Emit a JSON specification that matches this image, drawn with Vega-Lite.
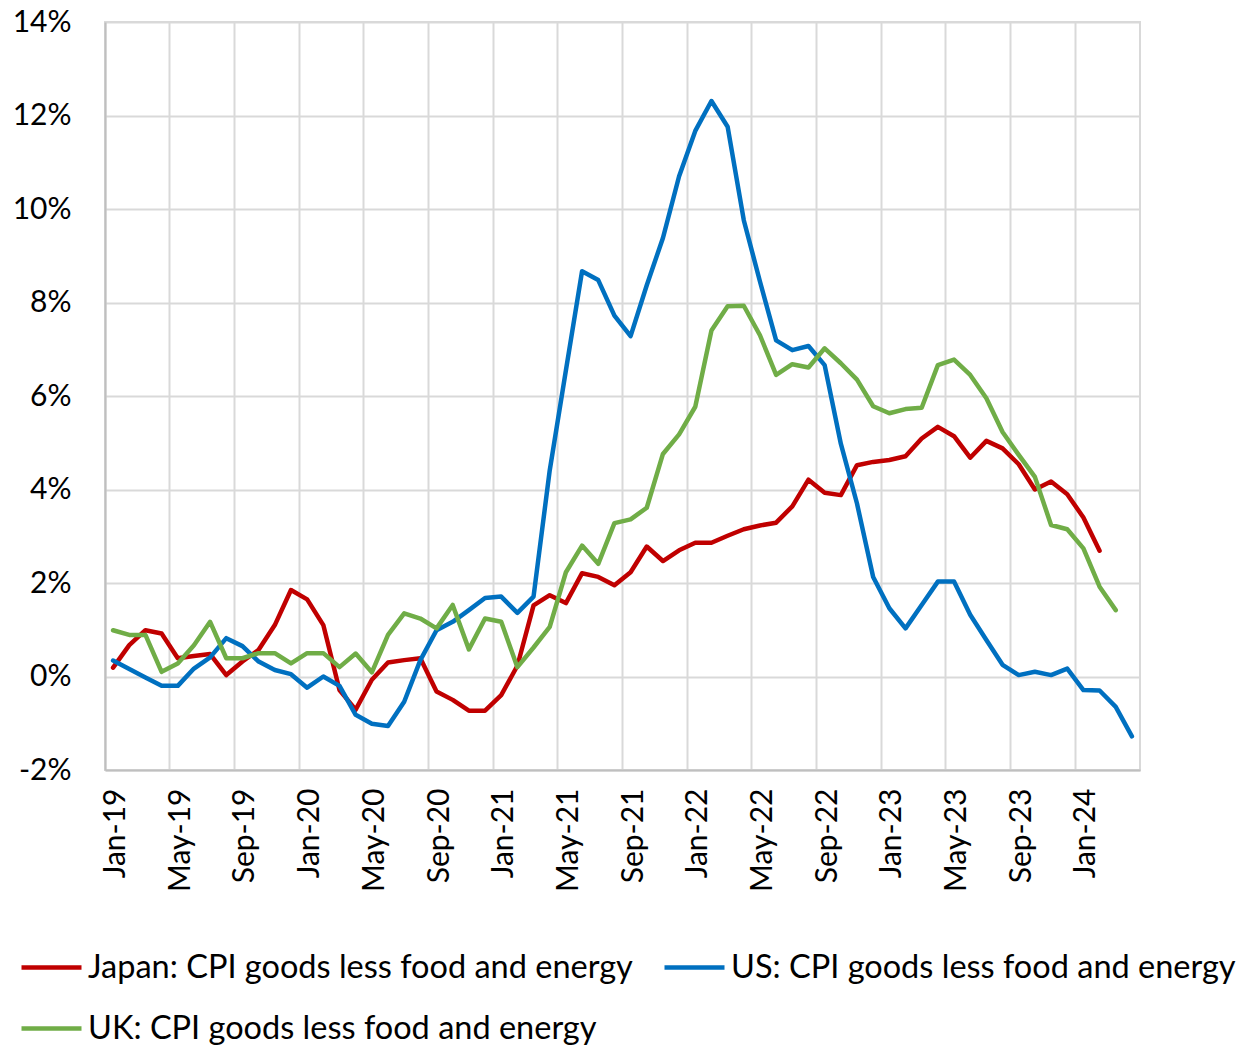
{
  "$schema": "https://vega.github.io/schema/vega-lite/v6.json",
  "width": 1035,
  "height": 748,
  "autosize": {"type": "none"},
  "padding": {"left": 105, "top": 22, "right": 106, "bottom": 277},
  "background": "white",
  "config": {"font": "Lato", "view": {"stroke": "#D9D9D9", "strokeWidth": 2}},
  "data": {"values": [
    {"month": "Jan-19", "Japan": 0.19, "US": 0.34, "UK": 0.99},
    {"month": "Feb-19", "Japan": 0.67, "US": 0.16, "UK": 0.89},
    {"month": "Mar-19", "Japan": 0.99, "US": -0.02, "UK": 0.89},
    {"month": "Apr-19", "Japan": 0.92, "US": -0.2, "UK": 0.1},
    {"month": "May-19", "Japan": 0.39, "US": -0.2, "UK": 0.28},
    {"month": "Jun-19", "Japan": 0.44, "US": 0.17, "UK": 0.67},
    {"month": "Jul-19", "Japan": 0.48, "US": 0.41, "UK": 1.17},
    {"month": "Aug-19", "Japan": 0.03, "US": 0.82, "UK": 0.39},
    {"month": "Sep-19", "Japan": 0.32, "US": 0.65, "UK": 0.39},
    {"month": "Oct-19", "Japan": 0.57, "US": 0.32, "UK": 0.5},
    {"month": "Nov-19", "Japan": 1.1, "US": 0.14, "UK": 0.5},
    {"month": "Dec-19", "Japan": 1.85, "US": 0.05, "UK": 0.28},
    {"month": "Jan-20", "Japan": 1.65, "US": -0.24, "UK": 0.5},
    {"month": "Feb-20", "Japan": 1.1, "US": 0.0, "UK": 0.5},
    {"month": "Mar-20", "Japan": -0.29, "US": -0.2, "UK": 0.2},
    {"month": "Apr-20", "Japan": -0.71, "US": -0.82, "UK": 0.49},
    {"month": "May-20", "Japan": -0.07, "US": -1.01, "UK": 0.09},
    {"month": "Jun-20", "Japan": 0.3, "US": -1.06, "UK": 0.89},
    {"month": "Jul-20", "Japan": 0.35, "US": -0.54, "UK": 1.35},
    {"month": "Aug-20", "Japan": 0.39, "US": 0.35, "UK": 1.24},
    {"month": "Sep-20", "Japan": -0.32, "US": 0.99, "UK": 1.03},
    {"month": "Oct-20", "Japan": -0.5, "US": 1.17, "UK": 1.53},
    {"month": "Nov-20", "Japan": -0.73, "US": 1.42, "UK": 0.58},
    {"month": "Dec-20", "Japan": -0.73, "US": 1.68, "UK": 1.24},
    {"month": "Jan-21", "Japan": -0.4, "US": 1.71, "UK": 1.17},
    {"month": "Feb-21", "Japan": 0.23, "US": 1.36, "UK": 0.2},
    {"month": "Mar-21", "Japan": 1.52, "US": 1.71, "UK": 0.62},
    {"month": "Apr-21", "Japan": 1.74, "US": 4.41, "UK": 1.06},
    {"month": "May-21", "Japan": 1.57, "US": 6.55, "UK": 2.23},
    {"month": "Jun-21", "Japan": 2.21, "US": 8.67, "UK": 2.8},
    {"month": "Jul-21", "Japan": 2.13, "US": 8.48, "UK": 2.41},
    {"month": "Aug-21", "Japan": 1.95, "US": 7.72, "UK": 3.28},
    {"month": "Sep-21", "Japan": 2.23, "US": 7.28, "UK": 3.36},
    {"month": "Oct-21", "Japan": 2.78, "US": 8.37, "UK": 3.61},
    {"month": "Nov-21", "Japan": 2.47, "US": 9.38, "UK": 4.76},
    {"month": "Dec-21", "Japan": 2.7, "US": 10.7, "UK": 5.18},
    {"month": "Jan-22", "Japan": 2.86, "US": 11.67, "UK": 5.77},
    {"month": "Feb-22", "Japan": 2.86, "US": 12.31, "UK": 7.4},
    {"month": "Mar-22", "Japan": 3.01, "US": 11.76, "UK": 7.92},
    {"month": "Apr-22", "Japan": 3.15, "US": 9.76, "UK": 7.93},
    {"month": "May-22", "Japan": 3.23, "US": 8.45, "UK": 7.3},
    {"month": "Jun-22", "Japan": 3.29, "US": 7.19, "UK": 6.45},
    {"month": "Jul-22", "Japan": 3.64, "US": 6.98, "UK": 6.68},
    {"month": "Aug-22", "Japan": 4.21, "US": 7.07, "UK": 6.61},
    {"month": "Sep-22", "Japan": 3.93, "US": 6.66, "UK": 7.02},
    {"month": "Oct-22", "Japan": 3.88, "US": 4.98, "UK": 6.7},
    {"month": "Nov-22", "Japan": 4.52, "US": 3.7, "UK": 6.35},
    {"month": "Dec-22", "Japan": 4.59, "US": 2.13, "UK": 5.78},
    {"month": "Jan-23", "Japan": 4.63, "US": 1.46, "UK": 5.63},
    {"month": "Feb-23", "Japan": 4.71, "US": 1.03, "UK": 5.72},
    {"month": "Mar-23", "Japan": 5.09, "US": 1.53, "UK": 5.75},
    {"month": "Apr-23", "Japan": 5.34, "US": 2.03, "UK": 6.66},
    {"month": "May-23", "Japan": 5.14, "US": 2.03, "UK": 6.78},
    {"month": "Jun-23", "Japan": 4.68, "US": 1.32, "UK": 6.45},
    {"month": "Jul-23", "Japan": 5.04, "US": 0.78, "UK": 5.95},
    {"month": "Aug-23", "Japan": 4.88, "US": 0.25, "UK": 5.23},
    {"month": "Sep-23", "Japan": 4.54, "US": 0.03, "UK": 4.74},
    {"month": "Oct-23", "Japan": 4.0, "US": 0.1, "UK": 4.27},
    {"month": "Nov-23", "Japan": 4.17, "US": 0.03, "UK": 3.24},
    {"month": "Dec-23", "Japan": 3.9, "US": 0.17, "UK": 3.15},
    {"month": "Jan-24", "Japan": 3.4, "US": -0.29, "UK": 2.74},
    {"month": "Feb-24", "Japan": 2.69, "US": -0.3, "UK": 1.92},
    {"month": "Mar-24", "Japan": null, "US": -0.65, "UK": 1.42},
    {"month": "Apr-24", "Japan": null, "US": -1.28, "UK": null}
  ]},
  "transform": [{"fold": ["Japan", "US", "UK"], "as": ["series", "value"]}],
  "mark": {"type": "line", "strokeWidth": 4.5, "strokeJoin": "round", "strokeCap": "round"},
  "encoding": {
    "x": {
      "field": "month", "type": "ordinal", "sort": null, "bandPosition": 0.5,
      "scale": {"type": "band", "paddingInner": 0, "paddingOuter": 0},
      "axis": {
        "title": null,
        "values": ["Jan-19", "May-19", "Sep-19", "Jan-20", "May-20", "Sep-20", "Jan-21", "May-21", "Sep-21", "Jan-22", "May-22", "Sep-22", "Jan-23", "May-23", "Sep-23", "Jan-24"],
        "bandPosition": 0, "labelOffset": 3, "labelAngle": -90,
        "labelFontSize": 30, "labelColor": "#000000", "labelPadding": 18,
        "ticks": false, "tickSize": 0, "grid": true, "gridColor": "#D9D9D9", "gridWidth": 2,
        "domainColor": "#BFBFBF", "domainWidth": 2
      }
    },
    "y": {
      "field": "value", "type": "quantitative",
      "scale": {"domain": [-2, 14], "nice": false, "zero": false},
      "axis": {
        "title": null, "values": [-2, 0, 2, 4, 6, 8, 10, 12, 14],
        "labelExpr": "datum.value + '%'", "labelFontSize": 30, "labelColor": "#000000",
        "ticks": false, "tickSize": 0, "labelPadding": 34,
        "grid": true, "gridColor": "#D9D9D9", "gridWidth": 2,
        "domainColor": "#BFBFBF", "domainWidth": 2
      }
    },
    "color": {
      "field": "series", "type": "nominal",
      "scale": {"domain": ["Japan", "US", "UK"], "range": ["#C00000", "#0070C0", "#70AD47"]},
      "legend": {
        "orient": "none", "legendX": -86, "legendY": 913, "direction": "horizontal", "columns": 2,
        "title": null, "symbolType": "stroke", "symbolSize": 3600, "symbolStrokeWidth": 4.5,
        "labelFontSize": 32.5, "labelColor": "#000000", "labelOffset": 4, "columnPadding": 22,
        "rowPadding": 12, "labelLimit": 0,
        "labelExpr": "datum.label + ': CPI goods less food and energy'"
      }
    }
  }
}
